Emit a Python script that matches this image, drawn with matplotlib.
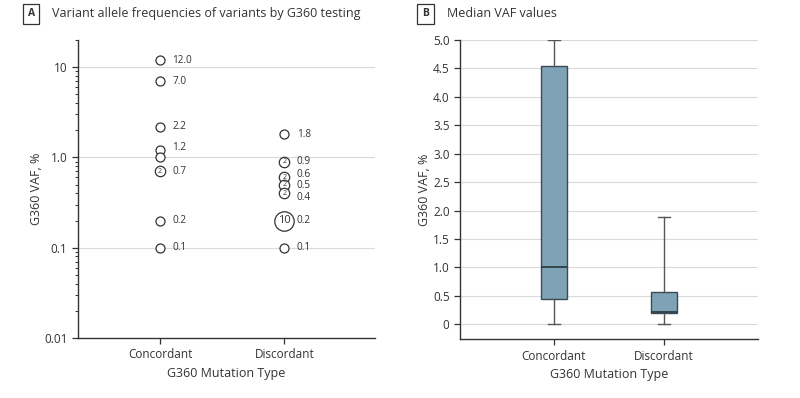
import matplotlib
matplotlib.use("Agg")
import matplotlib.pyplot as plt
import numpy as np

plt.rcParams['font.family'] = ['Open Sans', 'DejaVu Sans']

# Panel A data
categories = ["Concordant", "Discordant"]
conc_vaf = [12.0, 7.0, 2.2, 1.2, 1.0, 0.7, 0.2, 0.1]
conc_count = [1, 1, 1, 1, 1, 2, 1, 1]
conc_label = ["12.0", "7.0", "2.2", "1.2", "", "0.7", "0.2", "0.1"]
disc_vaf = [1.8, 0.9, 0.6, 0.5, 0.4, 0.2, 0.1]
disc_count = [1, 2, 2, 2, 2, 10, 1]
disc_label = ["1.8", "0.9", "0.6", "0.5", "0.4", "0.2", "0.1"]

# Panel B data (box statistics)
box_whislo = [0.0, 0.0]
box_q1 = [0.45, 0.20]
box_med = [1.0, 0.21]
box_q3 = [4.55, 0.57]
box_whishi = [5.0, 1.88]

fig = plt.figure(figsize=(8, 3.98), dpi=100)
text_col = "#333333"
grid_col = "#d9d9d9"

# ---------- Panel A ----------
axA = fig.add_axes([0.0975, 0.1508, 0.3715, 0.7487])
axA.set_yscale("log")
axA.set_ylim(0.01, 20)
axA.set_xlim(-0.66, 1.73)
for v in [0.1, 1, 10]:
    axA.axhline(v, color=grid_col, lw=0.8, zorder=0)

def draw_group(ax, x, vals, counts, labels, offsets):
    for v, c, lab, off in zip(vals, counts, labels, offsets):
        if c >= 10:
            ax.plot(x, v, 'o', ms=14, mfc='white', mec=text_col, mew=0.9, zorder=3)
            ax.text(x, v, str(c), ha='center', va='center', fontsize=8, color=text_col, zorder=4)
        elif c > 1:
            ax.plot(x, v, 'o', ms=7.5, mfc='white', mec=text_col, mew=0.9, zorder=3)
            ax.text(x, v, str(c), ha='center', va='center', fontsize=5, color=text_col, zorder=4)
        else:
            ax.plot(x, v, 'o', ms=6.5, mfc='white', mec=text_col, mew=0.9, zorder=3)
        if lab:
            ax.annotate(lab, (x, v), xytext=(9, off), textcoords='offset points',
                        ha='left', va='center', fontsize=7.2, color=text_col)

draw_group(axA, 0, conc_vaf, conc_count, conc_label, [0, 0, 0, 2, 0, 0, 0, 0])
draw_group(axA, 1, disc_vaf, disc_count, disc_label, [0, 0, 1.8, -0.5, -3, 0, 0])

axA.set_yticks([0.01, 0.1, 1, 10])
axA.set_yticklabels(["0.01", "0.1", "1.0", "10"])
axA.set_xticks([0, 1])
axA.set_xticklabels(categories)
axA.set_ylabel("G360 VAF, %", fontsize=9, color=text_col, labelpad=1)
axA.set_xlabel("G360 Mutation Type", fontsize=9, color=text_col)

# ---------- Panel B ----------
axB = fig.add_axes([0.575, 0.148, 0.3725, 0.7515])
axB.set_ylim(-0.26, 5.0)
axB.set_xlim(-0.85, 1.85)
for v in np.arange(0, 5.01, 0.5):
    axB.axhline(v, color=grid_col, lw=0.8, zorder=0)
stats = []
for i, cat in enumerate(categories):
    stats.append(dict(label=cat, whislo=box_whislo[i], q1=box_q1[i], med=box_med[i],
                      q3=box_q3[i], whishi=box_whishi[i], fliers=[]))
axB.bxp(stats, positions=[0, 1], widths=0.23, patch_artist=True, showfliers=False,
        boxprops=dict(facecolor="#7fa3b6", edgecolor="#3b4a55", lw=1.0),
        medianprops=dict(color="#2f3c45", lw=1.3),
        whiskerprops=dict(color="#555555", lw=1.0),
        capprops=dict(color="#555555", lw=1.0), capwidths=0.11)
axB.set_yticks(np.arange(0, 5.01, 0.5))
axB.set_yticklabels(["0"] + [f"{v:.1f}" for v in np.arange(0.5, 5.01, 0.5)])
axB.set_xticks([0, 1])
axB.set_xticklabels(categories)
axB.set_ylabel("G360 VAF, %", fontsize=9, color=text_col, labelpad=1)
axB.set_xlabel("G360 Mutation Type", fontsize=9, color=text_col)

for ax in (axA, axB):
    for s in ["top", "right"]:
        ax.spines[s].set_visible(False)
    for s in ["left", "bottom"]:
        ax.spines[s].set_color(text_col)
        ax.spines[s].set_linewidth(1.0)
    ax.tick_params(axis='both', colors=text_col, labelsize=8.5, length=4, width=0.9)
    ax.tick_params(axis='y', which='minor', length=2.5, width=0.7, colors=text_col)
axA.tick_params(axis='y', which='minor', labelleft=False)

# Panel titles
def panel_title(letter, x, title):
    fig.text(x, 0.965, letter, ha='center', va='center', fontsize=7.5, fontweight='bold', color=text_col,
             bbox=dict(boxstyle='square,pad=0.45', fc='white', ec=text_col, lw=0.9))
    fig.text(x + 0.0265, 0.965, title, ha='left', va='center', fontsize=9, color=text_col)

panel_title("A", 0.039, "Variant allele frequencies of variants by G360 testing")
panel_title("B", 0.532, "Median VAF values")

fig.savefig("out.png", dpi=100)
